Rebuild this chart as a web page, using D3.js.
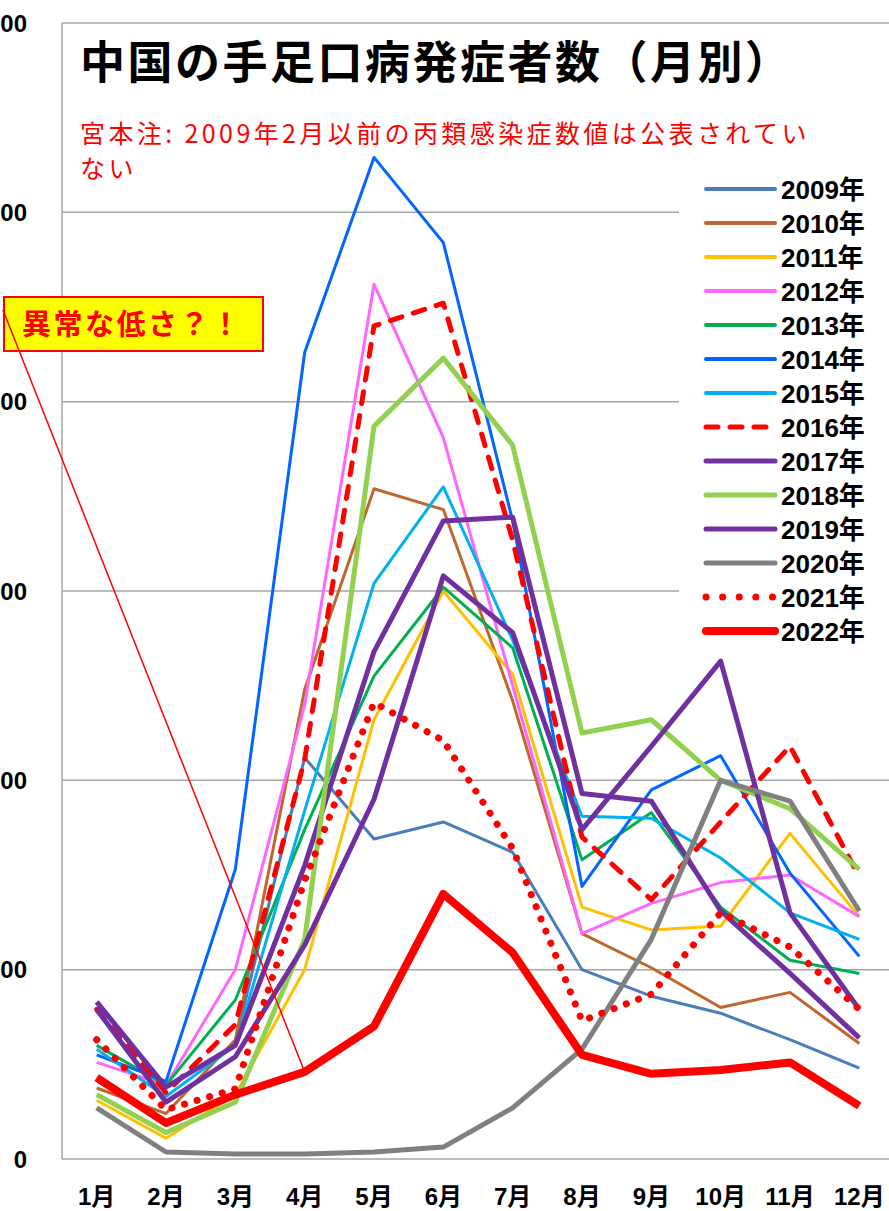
<!DOCTYPE html>
<html>
<head>
<meta charset="utf-8">
<script src="https://cdn.jsdelivr.net/npm/d3@7"></script>
<style>
  body { margin: 0; background: #fff; }
  svg { display: block; }
</style>
</head>
<body>
<div id="chart"></div>
<script>
// months on the x axis
var months = ["1月","2月","3月","4月","5月","6月","7月","8月","9月","10月","11月","12月"];
var yTicks = [0, 100000, 200000, 300000, 400000, 500000, 600000];

// monthly cases (null = not published)
var y2009 = [null, null, 62000, 212000, 169000, 178000, 162000, 100000, 86000, 77000, 63000, 48000];
var y2010 = [37500, 24000, 63000, 248000, 354000, 343000, 242000, 119000, 101000, 80000, 88000, 61000];
var y2011 = [31000, 11000, 34000, 100000, 232000, 300000, 256000, 133000, 121000, 123000, 172000, 128000];
var y2012 = [51000, 39000, 100000, 240000, 462000, 381000, 250000, 119000, 135000, 146000, 150000, 128000];
var y2013 = [60000, 39000, 84000, 174000, 255000, 302000, 270000, 158000, 183000, 133000, 105000, 98000];
var y2014 = [55000, 41000, 153000, 426000, 529000, 484000, 337000, 144000, 195000, 213000, 151000, 107000];
var y2015 = [58000, 33000, 60000, 184000, 304000, 355000, 274000, 181000, 180000, 159000, 130000, 116000];
var y2016 = [79000, 35000, 71000, 211000, 440000, 452000, 327000, 170000, 137000, 178000, 218000, 149000];
var y2017 = [83000, 38000, 60000, 155000, 268000, 337000, 339000, 193000, 189000, 131000, 98000, 64000];
var y2018 = [34000, 14000, 30000, 116000, 387000, 423000, 377000, 225000, 232000, 200000, 185000, 153000];
var y2019 = [79000, 30000, 54000, 113000, 190000, 308000, 278000, 174000, 218000, 263000, 130000, 79000];
var y2020 = [27000, 3700, 2600, 2600, 3700, 6300, 27000, 58000, 116000, 200000, 189000, 131000];
var y2021 = [63000, 26000, 37000, 147000, 241000, 221000, 164000, 73000, 87000, 130000, 112000, 79000];
var y2022 = [43000, 19000, 34000, 46000, 70000, 140000, 109000, 55000, 45000, 47000, 51000, 28000];

var seriesNames = ["2009年","2010年","2011年","2012年","2013年","2014年","2015年","2016年","2017年","2018年","2019年","2020年","2021年","2022年"];
var seriesValues = [y2009, y2010, y2011, y2012, y2013, y2014, y2015, y2016, y2017, y2018, y2019, y2020, y2021, y2022];

var width = 889, height = 1211;
var margin = {top: 23, right: -5, bottom: 52, left: 62};

var styles = {
  "2009年": {color: "#4A7EBB", w: 3},
  "2010年": {color: "#C0672E", w: 3},
  "2011年": {color: "#FFC000", w: 3},
  "2012年": {color: "#FF66FF", w: 3},
  "2013年": {color: "#00B050", w: 3},
  "2014年": {color: "#0066FF", w: 3},
  "2015年": {color: "#00B0F0", w: 3},
  "2016年": {color: "#FF0000", w: 5, dash: "12 12"},
  "2017年": {color: "#7030A0", w: 5},
  "2018年": {color: "#92D050", w: 5},
  "2019年": {color: "#7030A0", w: 5},
  "2020年": {color: "#808080", w: 5},
  "2021年": {color: "#FF0000", w: 7, dash: "0.1 13"},
  "2022年": {color: "#FF0000", w: 8}
};

var data = seriesNames.map(function(n, i) {
  return {name: n, values: seriesValues[i]};
});

var x = d3.scaleBand()
    .domain(months)
    .range([margin.left, width - margin.right]);

var y = d3.scaleLinear()
    .domain([0, 600000])
    .range([height - margin.bottom, margin.top]);

var svg = d3.select("#chart").append("svg")
    .attr("width", width)
    .attr("height", height);

// gridlines
svg.append("g")
  .selectAll("line")
  .data(yTicks)
  .join("line")
    .attr("x1", margin.left)
    .attr("x2", width)
    .attr("y1", d => y(d))
    .attr("y2", d => y(d))
    .attr("stroke", "#A6A6A6")
    .attr("stroke-width", 1.5);

// left border of plot area
svg.append("line")
    .attr("x1", margin.left).attr("x2", margin.left)
    .attr("y1", y(600000)).attr("y2", y(0))
    .attr("stroke", "#A6A6A6")
    .attr("stroke-width", 1.5);

// y labels (the original picture is cropped, only the last digits show)
svg.append("g")
  .selectAll("text")
  .data(yTicks)
  .join("text")
    .attr("x", 27)
    .attr("y", d => y(d))
    .attr("dy", "0.36em")
    .attr("text-anchor", "end")
    .style("font-family", "'Liberation Sans', Arial, sans-serif")
    .style("font-weight", "bold")
    .style("font-size", "24px")
    .text(d => d);

// x labels
svg.append("g")
  .selectAll("text")
  .data(months)
  .join("text")
    .attr("x", d => x(d) + x.bandwidth() / 2)
    .attr("y", 1205)
    .attr("text-anchor", "middle")
    .style("font-family", "'Liberation Sans', 'Noto Sans CJK JP', sans-serif")
    .style("font-weight", "bold")
    .style("font-size", "24px")
    .text(d => d);

// title
svg.append("text")
    .attr("x", 80)
    .attr("y", 79)
    .style("font-family", "'Noto Sans CJK JP', sans-serif")
    .style("font-weight", "bold")
    .style("font-size", "45px")
    .style("letter-spacing", "2.5px")
    .text("中国の手足口病発症者数（月別）");

// note in red
var note = svg.append("text")
    .attr("x", 80)
    .attr("y", 143)
    .attr("fill", "#FF0000")
    .style("font-family", "'Noto Sans CJK JP', sans-serif")
    .style("font-size", "25px")
    .style("letter-spacing", "3.4px");
note.append("tspan").attr("x", 80).text("宮本注: 2009年2月以前の丙類感染症数値は公表されてい");
note.append("tspan").attr("x", 80).attr("dy", 35).text("ない");

// lines
var line = d3.line()
    .defined(d => d != null)
    .x((d, i) => x(months[i]) + x.bandwidth() / 2)
    .y(d => y(d));

svg.append("g")
  .selectAll("path")
  .data(data)
  .join("path")
    .attr("fill", "none")
    .attr("stroke", d => styles[d.name].color)
    .attr("stroke-width", d => styles[d.name].w)
    .attr("stroke-dasharray", d => styles[d.name].dash || null)
    .attr("stroke-linecap", d => styles[d.name].dash ? "round" : "butt")
    .attr("stroke-linejoin", "round")
    .attr("d", d => line(d.values));

// legend
var legend = svg.append("g");
legend.append("rect")
    .attr("x", 679).attr("y", 172)
    .attr("width", 215).attr("height", 476)
    .attr("fill", "#fff");

var rows = legend.selectAll("g")
  .data(data)
  .join("g")
    .attr("transform", (d, i) => `translate(0,${189 + i * 34})`);

rows.append("line")
    .attr("x1", 706).attr("x2", 775)
    .attr("stroke", d => styles[d.name].color)
    .attr("stroke-width", d => Math.max(styles[d.name].w, 4))
    .attr("stroke-dasharray", d => styles[d.name].dash ? (d.name == "2021年" ? "0.1 16.5" : "12 12") : null)
    .attr("stroke-linecap", "round");

rows.append("text")
    .attr("x", 781)
    .attr("dy", "0.37em")
    .style("font-family", "'Liberation Sans', 'Noto Sans CJK JP', sans-serif")
    .style("font-weight", "bold")
    .style("font-size", "26px")
    .text(d => d.name);

// annotation box with pointer to 2022 April
var target = [x("4月") + x.bandwidth() / 2, y(y2022[3])];
svg.append("line")
    .attr("x1", 3).attr("y1", 310)
    .attr("x2", target[0]).attr("y2", target[1])
    .attr("stroke", "#FF0000")
    .attr("stroke-width", 1.5);

svg.append("rect")
    .attr("x", 4).attr("y", 297)
    .attr("width", 259).attr("height", 54)
    .attr("fill", "#FFFF00")
    .attr("stroke", "#FF0000")
    .attr("stroke-width", 2);

svg.append("text")
    .attr("x", 22)
    .attr("y", 335)
    .attr("fill", "#FF0000")
    .style("font-family", "'Noto Sans CJK JP', sans-serif")
    .style("font-weight", "bold")
    .style("font-size", "29px")
    .style("letter-spacing", "2.5px")
    .text("異常な低さ？！");

// redraw the part of the pointer that sits above the box
svg.append("line")
    .attr("x1", 3).attr("y1", 310)
    .attr("x2", 3 + (351 - 310) * (target[0] - 3) / (target[1] - 310)).attr("y2", 351)
    .attr("stroke", "#FF0000")
    .attr("stroke-width", 1.5);
</script>
</body>
</html>
